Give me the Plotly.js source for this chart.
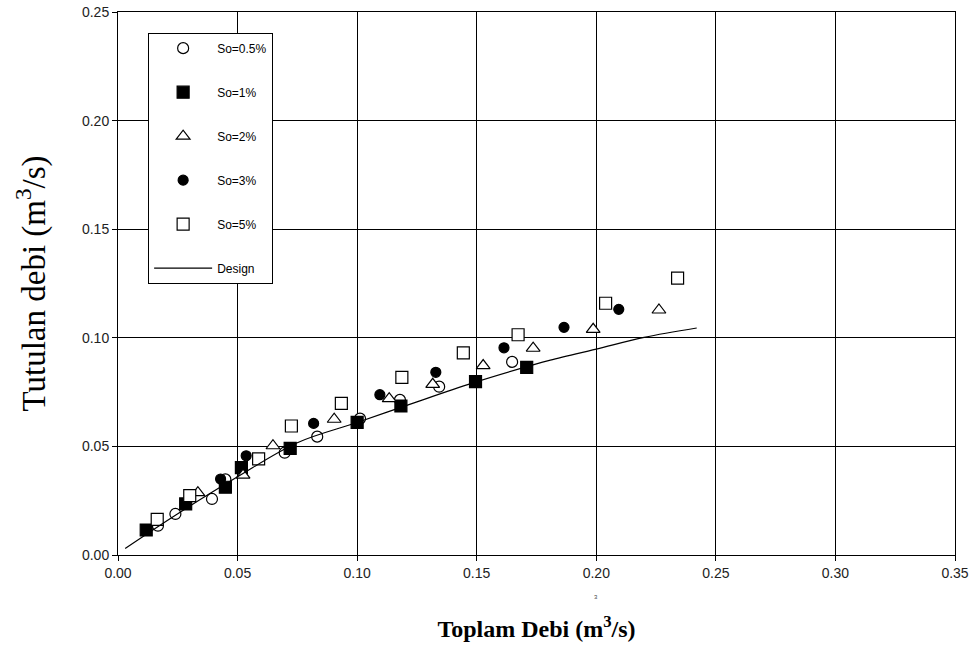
<!DOCTYPE html>
<html><head><meta charset="utf-8">
<script src="https://cdn.plot.ly/plotly-3.0.1.min.js"></script>
<style>body{margin:0;background:#fff}#c{width:978px;height:659px}</style>
</head><body><div id="c"></div>
<script>
const names = ["So=0.5%","So=1%","So=2%","So=3%","So=5%","Design"];
const so05_x = [0.0167,0.024,0.0393,0.0449,0.0697,0.0833,0.1012,0.1179,0.1343,0.1648];
const so05_y = [0.0135,0.0189,0.0258,0.0348,0.0471,0.0545,0.0628,0.0714,0.0775,0.0889];
const so1_x = [0.0118,0.0283,0.0449,0.0516,0.072,0.100,0.1183,0.1495,0.1709];
const so1_y = [0.0115,0.0235,0.0312,0.0402,0.0491,0.0611,0.0686,0.0798,0.0864];
const so2_x = [0.0334,0.0523,0.0648,0.0904,0.1134,0.1316,0.1527,0.1736,0.1987,0.2262];
const so2_y = [0.0287,0.0368,0.0503,0.0625,0.0720,0.0786,0.0872,0.0952,0.1039,0.1128];
const so3_x = [0.0429,0.0536,0.0818,0.1095,0.1329,0.1614,0.1865,0.2094];
const so3_y = [0.0350,0.0457,0.0606,0.0738,0.0841,0.0954,0.1048,0.1131];
const so5_x = [0.0164,0.030,0.0588,0.0725,0.0934,0.1187,0.1444,0.1673,0.2039,0.234];
const so5_y = [0.0164,0.0273,0.0443,0.0594,0.0698,0.0818,0.0931,0.1014,0.1159,0.1275];
const design_x = [0.003,0.025,0.05,0.075,0.1,0.125,0.15,0.175,0.18,0.2,0.22,0.242];
const design_y = [0.003,0.019,0.036,0.0517,0.061,0.0705,0.0798,0.088,0.0895,0.0948,0.1002,0.1045];

function mk(x,y,name,sym,size,fill){
  return {x:x,y:y,name:name,type:'scatter',mode:'markers',legendgroup:name,
    marker:{symbol:sym,size:size,color:fill?'#000':'#fff',line:{color:'#000',width:1.2}}};
}
const traces = [
  mk(so05_x,so05_y,names[0],'circle',11,false),
  mk(so1_x,so1_y,names[1],'square',12,true),
  mk(so2_x,so2_y,names[2],'triangle-up',12,false),
  mk(so3_x,so3_y,names[3],'circle',10,true),
  mk(so5_x,so5_y,names[4],'square',12,false),
  {x:design_x,y:design_y,name:names[5],type:'scatter',mode:'lines',legendgroup:names[5],
   line:{color:'#000',width:1.2,shape:'spline'}}
];
const ax = {showline:true,linecolor:'#000',linewidth:1,mirror:true,showgrid:true,gridcolor:'#000',gridwidth:1,
  ticks:'outside',ticklen:5,tickcolor:'#000',zeroline:false,tickformat:'.2f',
  tickfont:{family:'Liberation Sans, Arial',size:14,color:'#222'}};
const layout = {
  width:978,height:659,margin:{l:118,r:23,t:12,b:104},
  paper_bgcolor:'#fff',plot_bgcolor:'#fff',
  xaxis:Object.assign({},ax,{range:[0,0.35],dtick:0.05,
    title:{text:'<b>Toplam Debi (m<sup>3</sup>/s)</b>',font:{family:'Liberation Serif, Times New Roman',size:24,color:'#000'},standoff:40}}),
  yaxis:Object.assign({},ax,{range:[0,0.25],dtick:0.05,
    title:{text:'Tutulan debi (m<sup>3</sup>/s)',font:{family:'Liberation Serif, Times New Roman',size:33,color:'#000'},standoff:26}}),
  showlegend:true,
  legend:{x:0.036,y:0.962,xanchor:'left',yanchor:'top',bgcolor:'#fff',bordercolor:'#000',borderwidth:1,
    font:{family:'Liberation Sans, Arial',size:12,color:'#000'},tracegroupgap:25,traceorder:'grouped',
    itemwidth:58},
  annotations:[{x:0.2,y:0,xref:'x',yref:'y',yshift:-42,text:'3',showarrow:false,
    font:{family:'Liberation Sans, Arial',size:6,color:'#444'}}]
};
Plotly.newPlot('c',traces,layout,{displayModeBar:false,staticPlot:true});
</script></body></html>
